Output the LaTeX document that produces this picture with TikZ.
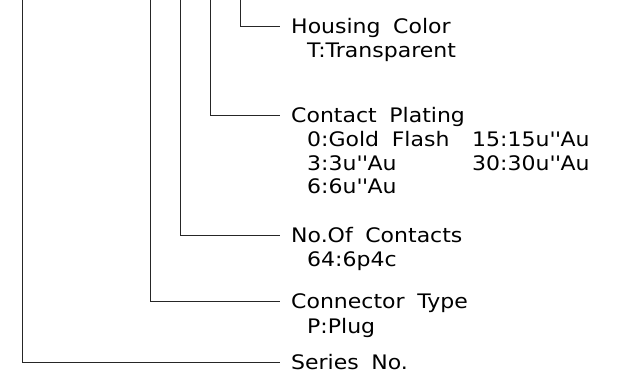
\documentclass[tikz,border=0pt]{standalone}
\usepackage{fontspec}
\newfontfamily\lab{DejaVu Sans}[FakeStretch=1.1,WordSpace=1.8]
\newcommand{\qq}{\textquotesingle\textquotesingle}
\begin{document}
\begin{tikzpicture}[x=1pt,y=-1pt,
  conn/.style={line width=0.9pt, draw=black!85},
  ttl/.style={anchor=west, inner xsep=11pt, inner ysep=0pt, text height=15pt, text depth=0pt,
    font=\lab\fontsize{20}{24}\selectfont},
  itm/.style={anchor=base west, inner sep=0pt, font=\lab\fontsize{20}{24}\selectfont}]
\useasboundingbox (0,0) rectangle (617,374);
% top ends of the connectors
\coordinate (tS) at (22.3,0);
\coordinate (tT) at (150,0);
\coordinate (tN) at (180.3,0);
\coordinate (tP) at (210,0);
\coordinate (tH) at (240,0);
% titles
\node[ttl] (hc) at (280,26) {Housing Color};
\node[ttl] (cp) at (280,115) {Contact Plating};
\node[ttl] (nc) at (280,235) {No.Of Contacts};
\node[ttl] (ct) at (280,301) {Connector Type};
\node[ttl] (sn) at (280,362) {Series No.};
% items
\node[itm] (hc1) at (307,58) {T:Transparent};
\node[itm] (cp1) at (307,146.7) {0:Gold Flash};
\node[itm] (cp2) at (472,146.7) {15:15u\qq Au};
\node[itm] (cp3) at (307,170) {3:3u\qq Au};
\node[itm] (cp4) at (472,170) {30:30u\qq Au};
\node[itm] (cp5) at (307,193.5) {6:6u\qq Au};
\node[itm] (nc1) at (307,266.7) {64:6p4c};
\node[itm] (ct1) at (307,333.3) {P:Plug};
% connectors
\draw[conn] (tH) |- (hc.west);
\draw[conn] (tP) |- (cp.west);
\draw[conn] (tN) |- (nc.west);
\draw[conn] (tT) |- (ct.west);
\draw[conn] (tS) |- (sn.west);
\end{tikzpicture}
\end{document}
